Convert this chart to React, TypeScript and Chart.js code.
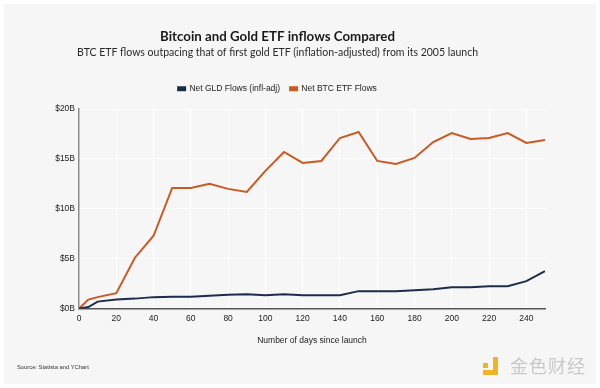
import React, { useEffect, useRef } from "react";
import { Chart, registerables } from "chart.js";

Chart.register(...registerables);

const days = [0, 5, 10, 20, 30, 40, 50, 60, 70, 80, 90, 100, 110, 120, 130, 140, 150, 160, 170, 180, 190, 200, 210, 220, 230, 240, 250];
const gldFlows = [0, 0.15, 0.7, 0.9, 1.0, 1.15, 1.2, 1.2, 1.28, 1.4, 1.45, 1.35, 1.45, 1.35, 1.35, 1.35, 1.75, 1.75, 1.75, 1.85, 1.95, 2.15, 2.15, 2.25, 2.25, 2.75, 3.75];
const btcFlows = [0, 0.9, 1.15, 1.55, 5.1, 7.3, 12.1, 12.1, 12.5, 12.0, 11.7, 13.8, 15.7, 14.6, 14.8, 17.1, 17.7, 14.8, 14.5, 15.1, 16.7, 17.6, 17.0, 17.1, 17.6, 16.6, 16.9];
const yTicks = [0, 5, 10, 15, 20];

const TITLE = "Bitcoin and Gold ETF inflows Compared";
const SUBTITLE = "BTC ETF flows outpacing that of first gold ETF (inflation-adjusted) from its 2005 launch";
const X_TITLE = "Number of days since launch";
const SOURCE = "Source: Statista and YChart";

const GLD_COLOR = "#1e2c4c";
const BTC_COLOR = "#c85a22";
const AXIS_FONT = "'Liberation Sans', Arial, sans-serif";
const TITLE_FONT = "Lato, 'Open Sans', sans-serif";

export default function App() {
  const canvasRef = useRef<HTMLCanvasElement | null>(null);

  useEffect(() => {
    document.body.style.margin = "0";
    const ctx = canvasRef.current!.getContext("2d")!;
    const chart = new Chart(ctx, {
      type: "line",
      data: {
        datasets: [
          {
            label: "Net GLD Flows (infl-adj)",
            data: days.map((d, i) => ({ x: d, y: gldFlows[i] })),
            borderColor: GLD_COLOR,
            backgroundColor: GLD_COLOR,
            borderWidth: 2,
            pointRadius: 0,
            tension: 0,
          },
          {
            label: "Net BTC ETF Flows",
            data: days.map((d, i) => ({ x: d, y: btcFlows[i] })),
            borderColor: BTC_COLOR,
            backgroundColor: BTC_COLOR,
            borderWidth: 2,
            pointRadius: 0,
            tension: 0,
          },
        ],
      },
      options: {
        responsive: false,
        animation: false,
        layout: { padding: { left: 10, right: 55, top: 0, bottom: 42 } },
        plugins: {
          title: {
            display: true,
            text: TITLE,
            color: "#1a1a1a",
            font: { family: TITLE_FONT, size: 13.3, weight: "bold" },
            padding: { top: 29, bottom: 0 },
          },
          subtitle: {
            display: true,
            text: SUBTITLE,
            color: "#2a2a2a",
            font: { family: TITLE_FONT, size: 10.5 },
            padding: { top: 1, bottom: 16 },
          },
          legend: {
            display: true,
            labels: {
              boxWidth: 7,
              boxHeight: 3,
              color: "#222",
              font: { family: AXIS_FONT, size: 8.5 },
              padding: 10,
            },
          },
          tooltip: { enabled: false },
        },
        scales: {
          x: {
            type: "linear",
            min: 0,
            max: 250,
            border: { display: true, color: "#555", width: 1.5 },
            grid: { color: "rgba(255,255,255,0.9)", drawTicks: false },
            ticks: {
              stepSize: 20,
              includeBounds: false,
              color: "#222",
              padding: 5,
              maxRotation: 0,
              font: { family: AXIS_FONT, size: 8.5 },
            },
            title: {
              display: true,
              text: X_TITLE,
              color: "#222",
              font: { family: AXIS_FONT, size: 8.5 },
              padding: { top: 7, bottom: 0 },
            },
          },
          xTopSpacer: {
            type: "linear",
            position: "top",
            display: true,
            min: 0,
            max: 250,
            grid: { display: false, drawTicks: false },
            border: { display: false },
            ticks: { display: false },
            afterFit: (scale: any) => {
              scale.height = 6;
            },
          },
          y: {
            min: 0,
            max: 20,
            afterFit: (scale: any) => {
              scale.width = 69;
            },
            border: { display: true, color: "#8a8a8a", width: 1.5 },
            grid: { color: "rgba(255,255,255,0.9)", drawTicks: false },
            afterBuildTicks: (scale: any) => {
              scale.ticks = yTicks.map((v) => ({ value: v }));
            },
            ticks: {
              color: "#222",
              padding: 4,
              font: { family: AXIS_FONT, size: 8.5 },
              callback: (v: any) => "$" + v + "B",
            },
          },
        },
      },
    });
    return () => chart.destroy();
  }, []);

  return (
    <div
      style={{
        position: "absolute",
        left: 0,
        top: 0,
        width: 600,
        height: 388,
        background: "#ffffff",
      }}
    >
      <div
        style={{
          position: "absolute",
          left: 4,
          top: 4,
          width: 592,
          height: 380,
          background: "#f6f6f6",
        }}
      />
      <canvas
        ref={canvasRef}
        width={600}
        height={388}
        style={{ position: "absolute", left: 0, top: 0, width: 600, height: 388 }}
      />
      <div
        style={{
          position: "absolute",
          left: 17,
          top: 364,
          fontFamily: AXIS_FONT,
          fontSize: 5.8,
          color: "#333",
          whiteSpace: "nowrap",
        }}
      >
        {SOURCE}
      </div>
      <div style={{ position: "absolute", left: 483, top: 363, width: 5, height: 5, background: "#f0b323" }} />
      <div style={{ position: "absolute", left: 493, top: 357, width: 5, height: 18, background: "#f0b323" }} />
      <div style={{ position: "absolute", left: 483, top: 370, width: 15, height: 5, background: "#f0b323" }} />
      <div
        style={{
          position: "absolute",
          left: 510,
          top: 354,
          fontFamily: "'Noto Sans CJK SC', sans-serif",
          fontSize: 18,
          lineHeight: "22px",
          color: "#c9c9c9",
          whiteSpace: "nowrap",
          letterSpacing: 1,
        }}
      >
        金色财经
      </div>
    </div>
  );
}
